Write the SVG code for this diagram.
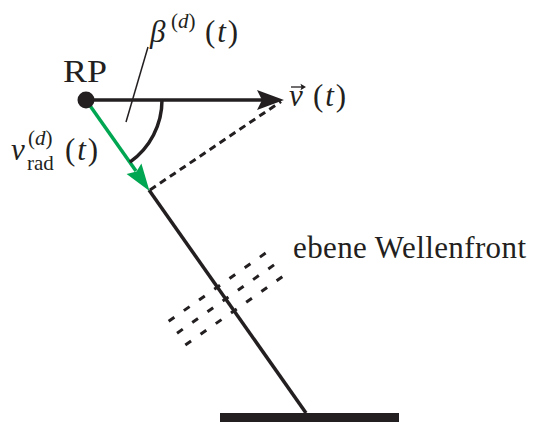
<svg xmlns="http://www.w3.org/2000/svg" width="539" height="423" viewBox="0 0 539 423">
<style>
  text { font-family: 'Liberation Serif', 'Times New Roman', 'DejaVu Serif', serif; font-size: 31px; fill: #231f20; }
  .it { font-style: italic; }
  .sm { font-size: 21px; }
  .ln { stroke: #231f20; stroke-width: 3.5; fill: none; }
  .wave { stroke: #231f20; stroke-width: 3; stroke-dasharray: 7 11.6; fill: none; }
</style>
<rect width="539" height="423" fill="#ffffff"/>

<g id="connectors">
  <line class="ln" x1="149" y1="190" x2="306" y2="413"/>
  <line class="ln" x1="86" y1="100" x2="262" y2="100"/>
  <polygon points="284,100 257,90 262,100 257,110" fill="#231f20"/>
  <line x1="86" y1="100" x2="136" y2="171" stroke="#00a651" stroke-width="3.5"/>
  <polygon points="149.5,191 141.4,163.6 136.5,171.5 126.6,174" fill="#00a651"/>
  <line x1="150" y1="190" x2="281" y2="101.5" stroke="#231f20" stroke-width="3" stroke-dasharray="7 5"/>
  <path class="ln" d="M162,100 A76,76 0 0 1 129.9,162.1"/>
  <line x1="126" y1="122" x2="148" y2="47" stroke="#231f20" stroke-width="1.5"/>
</g>

<g id="node-RP">
  <circle cx="86" cy="100" r="8.5" fill="#231f20"/>
  <text x="63" y="82" font-size="34px" textLength="44" lengthAdjust="spacingAndGlyphs">RP</text>
</g>

<g id="label-beta">
  <text class="it" x="150" y="42" font-size="33px">β</text>
  <text class="sm" x="171" y="28">(<tspan class="it">d</tspan>)</text>
  <text x="205" y="42" textLength="33" lengthAdjust="spacing">(<tspan class="it">t</tspan>)</text>
</g>

<g id="label-v">
  <text class="it" x="289" y="106">v</text>
  <line x1="291" y1="87" x2="302" y2="87" stroke="#231f20" stroke-width="1.3"/>
  <polygon points="306,87 300.5,83.8 301.5,87 300.5,90.2" fill="#231f20"/>
  <text x="313" y="106" textLength="33" lengthAdjust="spacing">(<tspan class="it">t</tspan>)</text>
</g>

<g id="label-vrad">
  <text class="it" x="11" y="160">v</text>
  <text class="sm" x="28" y="145">(<tspan class="it">d</tspan>)</text>
  <text class="sm" x="27" y="170">rad</text>
  <text x="65" y="160" textLength="33" lengthAdjust="spacing">(<tspan class="it">t</tspan>)</text>
</g>

<g id="node-wavefront">
  <path class="wave" d="M168.65,321.35 L265.95,252.85"/>
  <path class="wave" d="M177.05,333.15 L274.35,264.65"/>
  <path class="wave" d="M185.35,345.05 L282.65,276.55"/>
  <text x="293" y="258" textLength="233" lengthAdjust="spacing">ebene Wellenfront</text>
</g>

<g id="node-ground">
  <rect x="220" y="413" width="179" height="9" fill="#231f20"/>
</g>
</svg>
